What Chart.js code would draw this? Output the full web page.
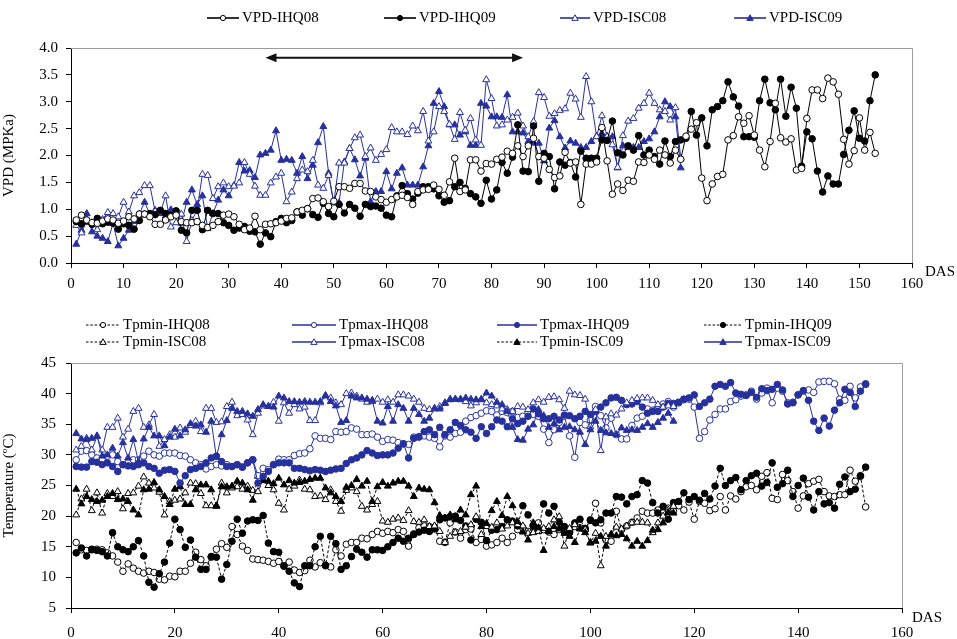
<!DOCTYPE html>
<html>
<head>
<meta charset="utf-8">
<script src="https://cdn.jsdelivr.net/npm/chart.js@4.4.1/dist/chart.umd.min.js"></script>
<style>
  body { margin: 0; background: #fff; }
  #page { position: relative; width: 957px; height: 639px; overflow: hidden;
          font-family: "Liberation Serif", "Times New Roman", serif; color: #000; }
  canvas { position: absolute; left: 0; }
  .legend-item { position: absolute; display: flex; align-items: center; white-space: nowrap; line-height: 1; }
  .legend-item svg { margin-right: 3px; }
  .das { position: absolute; font-size: 15px; }
</style>
</head>
<body>
<div id="page">
  <canvas id="vpdChart" width="957" height="300" style="top:0"></canvas>
  <canvas id="tempChart" width="957" height="339" style="top:300px"></canvas>
  <div id="legends"></div>
  <div class="das" style="left:925px; top:263px">DAS</div>
  <div class="das" style="left:912px; top:609px">DAS</div>
</div>
<script>
// days after sowing, first value of every series is day 1
const firstDay = 1;

// ---- VPD (MPKa) ----
const vpdIHQ08 = [
  0.80, 0.89, 0.80, 0.75, 0.74, 0.78, 0.82, 0.80, 0.74, 0.78,
  0.86, 0.82, 0.91, 0.91, 0.86, 0.72, 0.72, 0.80, 0.86, 0.89,
  0.77, 0.75, 0.75, 0.77, 0.70, 0.66, 0.70, 0.77, 0.89, 0.91,
  0.86, 0.72, 0.62, 0.65, 0.87, 0.62, 0.72, 0.73, 0.75, 0.78,
  0.83, 0.84, 0.95, 0.98, 1.01, 1.20, 1.21, 1.14, 1.05, 1.15,
  1.42, 1.42, 1.39, 1.48, 1.48, 1.34, 1.33, 1.23, 1.18, 1.13,
  1.18, 1.23, 1.26, 1.22, 1.09, 1.33, 1.36, 1.37, 1.45, 1.37,
  1.26, 1.51, 1.95, 1.33, 1.36, 1.92, 1.92, 1.71, 1.85, 1.84,
  1.93, 1.97, 2.08, 2.04, 2.18, 1.98, 2.18, 2.32, 1.98, 1.95,
  1.74, 1.59, 1.62, 2.06, 1.86, 1.88, 1.09, 1.84, 1.84, 1.88,
  2.52, 1.90, 1.28, 1.47, 1.35, 1.54, 1.52, 1.88, 1.87, 2.01,
  1.93, 2.10, 2.01, 1.86, 2.10, 1.93, 2.36, 2.49, 2.61, 1.58,
  1.16, 1.47, 1.61, 1.65, 2.29, 2.37, 2.72, 2.60, 2.74, 2.38,
  2.10, 1.79, 2.26, 2.97, 2.33, 2.25, 2.31, 1.73, 1.76, 2.69,
  3.22, 3.22, 3.06, 3.44, 3.37, 3.14, 2.30, 1.84, 2.09, 2.70,
  2.10, 2.43, 2.04,
];
const vpdIHQ09 = [
  0.77, 0.73, 0.78, 0.72, 0.83, 0.73, 0.76, 0.74, 0.63, 0.73,
  0.70, 0.63, 0.79, 0.91, 0.92, 0.90, 0.98, 0.92, 0.89, 0.97,
  0.61, 0.56, 0.98, 0.98, 0.62, 0.98, 0.92, 0.92, 0.75, 0.70,
  0.61, 0.65, 0.68, 0.59, 0.58, 0.35, 0.56, 0.49, 0.77, 0.83,
  0.75, 0.79, 0.95, 0.89, 1.01, 0.90, 0.85, 1.11, 0.92, 0.86,
  1.09, 0.93, 1.09, 1.02, 0.87, 1.09, 1.05, 1.06, 1.02, 0.89,
  0.86, 1.25, 1.44, 1.29, 1.19, 1.30, 1.42, 1.42, 1.38, 1.25,
  1.13, 1.16, 1.42, 1.50, 1.39, 1.29, 1.23, 1.11, 1.54, 1.19,
  1.36, 1.87, 1.67, 1.97, 2.57, 1.71, 1.70, 2.55, 1.52, 2.04,
  1.98, 1.38, 1.88, 1.82, 1.87, 1.60, 2.08, 1.95, 1.95, 1.95,
  2.29, 2.28, 2.64, 2.05, 2.01, 2.18, 2.10, 2.37, 2.01, 2.10,
  1.98, 1.84, 2.27, 1.98, 2.26, 2.29, 2.32, 2.82, 2.38, 2.70,
  2.18, 2.85, 2.91, 3.02, 3.37, 3.09, 2.92, 2.35, 2.35, 2.34,
  3.02, 3.42, 2.98, 2.85, 3.42, 2.73, 3.27, 2.88, 1.80, 2.44,
  2.31, 1.71, 1.32, 1.62, 1.47, 1.47, 2.02, 2.47, 2.83, 2.32,
  2.27, 3.02, 3.50,
];
const vpdISC08 = [
  0.70, 0.56, 0.79, 0.75, 0.62, 0.81, 0.94, 0.92, 0.86, 1.13,
  0.95, 1.25, 1.31, 1.44, 1.44, 0.96, 0.94, 1.25, 0.67, 0.75,
  0.91, 0.40, 0.79, 0.99, 1.65, 1.63, 1.20, 1.42, 1.49, 1.42,
  1.43, 1.49, 1.87, 1.65, 1.43, 1.26, 1.26, 1.49, 1.60, 1.67,
  1.14, 1.32, 1.57, 1.73, 1.70, 1.91, 1.45, 1.39, 1.63, 1.12,
  1.86, 1.86, 2.13, 2.33, 2.38, 1.98, 2.14, 1.91, 2.02, 2.11,
  2.52, 2.44, 2.44, 2.39, 2.55, 2.46, 2.82, 2.27, 2.44, 2.91,
  2.82, 2.58, 2.30, 2.80, 2.47, 2.69, 2.29, 2.19, 3.41, 3.06,
  2.55, 2.57, 2.66, 2.71, 2.79, 2.55, 2.35, 2.63, 3.17, 3.08,
  2.73, 2.78, 2.84, 2.87, 3.16, 3.05, 2.71, 3.47, 3.00, 2.35,
  2.74, 2.35, 2.20, 1.78, 2.37, 2.64, 2.69, 2.88, 2.97, 3.16,
  2.97, 2.85, 2.82, 2.66, 2.89, 1.95,
];
const vpdISC09 = [
  0.35, 0.61, 0.92, 0.58, 0.50, 0.46, 0.40, 0.74, 0.32, 0.46,
  0.61, 0.77, 0.91, 1.13, 0.91, 0.98, 0.92, 0.87, 0.99, 0.95,
  0.74, 1.13, 1.36, 1.09, 1.25, 0.64, 0.92, 1.17, 1.36, 1.25,
  1.44, 1.87, 1.71, 1.72, 1.59, 2.01, 2.04, 2.10, 2.46, 1.91,
  1.93, 1.91, 1.67, 1.98, 1.57, 1.82, 2.24, 2.54, 1.67, 1.12,
  1.12, 1.88, 2.13, 1.92, 1.62, 1.95, 1.14, 1.33, 1.33, 1.70,
  1.38, 1.67, 1.77, 1.45, 1.45, 1.45, 1.79, 2.18, 2.97, 3.19,
  2.91, 2.57, 2.57, 2.38, 2.44, 2.19, 2.19, 2.97, 2.92, 2.72,
  2.72, 2.71, 3.13, 2.44, 2.44, 2.42, 2.26, 2.23, 2.23, 1.90,
  2.51, 2.65, 2.35, 2.14, 2.27, 2.23, 2.15, 2.15, 2.26, 2.36,
  2.41, 2.36, 2.35, 1.77, 2.18, 2.15, 2.15, 2.15, 2.26, 2.31,
  2.44, 2.72, 3.00, 2.91, 2.72, 1.77,
];

// ---- Temperature (ºC) ----
const tminIHQ08 = [
  15.7, 14.5, 14.4, 14.5, 14.6, 14.5, 14.0, 13.5, 12.5, 11.0,
  12.2, 11.5, 11.0, 10.7, 11.0, 10.8, 9.7, 9.6, 10.2, 10.1,
  11.0, 11.0, 12.3, 14.1, 12.9, 11.9, 13.3, 14.6, 15.5, 14.9,
  18.3, 17.0, 15.1, 14.4, 13.0, 12.9, 12.8, 12.6, 12.3, 12.6,
  11.8, 12.5, 11.2, 10.8, 11.1, 12.8, 11.7, 12.4, 12.0, 11.7,
  14.5, 13.5, 15.4, 15.7, 15.7, 16.4, 16.3, 17.0, 17.5, 17.2,
  17.5, 17.3, 17.8, 17.5, 15.1, 17.1, 18.1, 18.4, 18.3, 18.2,
  15.9, 15.7, 18.9, 17.4, 16.4, 17.8, 17.9, 15.7, 16.2, 15.1,
  15.3, 15.7, 16.4, 15.7, 16.7, 17.8, 18.1, 17.5, 18.4, 18.9,
  17.8, 17.4, 17.0, 17.8, 17.4, 17.5, 18.3, 18.1, 17.8, 19.4,
  22.1, 18.9, 16.1, 15.9, 20.8, 17.8, 18.4, 19.0, 19.7, 20.8,
  20.5, 20.5, 21.0, 20.5, 21.3, 20.8, 21.7, 21.0, 22.3, 19.5,
  22.4, 22.1, 20.9, 21.2, 23.2, 21.0, 23.3, 22.8, 24.0, 24.8,
  25.0, 24.3, 26.5, 27.1, 22.9, 22.7, 26.8, 25.8, 24.0, 21.3,
  23.3, 25.3, 25.7, 26.0, 24.0, 23.3, 23.2, 23.5, 23.5, 27.5,
  25.7, 26.5, 21.5,
];
const tmaxIHQ08 = [
  29.2, 30.6, 30.7, 30.0, 29.5, 29.2, 29.8, 30.0, 28.9, 28.4,
  28.7, 29.2, 29.2, 29.8, 30.6, 30.0, 29.8, 30.3, 30.3, 30.3,
  29.9, 29.8, 29.2, 28.7, 28.4, 27.7, 28.1, 28.4, 28.2, 28.4,
  28.1, 28.4, 28.0, 28.7, 29.2, 26.6, 27.8, 27.6, 28.4, 29.3,
  29.2, 29.2, 29.9, 30.2, 30.3, 31.0, 33.1, 32.7, 32.7, 32.5,
  33.8, 33.7, 33.8, 34.4, 34.2, 33.3, 33.3, 33.4, 32.9, 32.2,
  32.5, 32.4, 32.0, 31.8, 31.7, 32.9, 33.0, 33.1, 32.9, 32.7,
  31.3, 33.1, 32.9, 33.5, 33.7, 35.5, 36.1, 36.4, 36.8, 37.2,
  37.1, 36.5, 37.1, 36.9, 37.1, 36.1, 36.3, 36.8, 36.6, 36.3,
  34.2, 32.0, 34.1, 35.3, 36.3, 33.1, 29.6, 35.3, 34.9, 35.7,
  37.9, 36.4, 34.4, 36.0, 33.3, 32.6, 32.6, 34.8, 36.0, 36.3,
  37.5, 37.3, 37.4, 38.3, 38.7, 37.8, 38.5, 39.0, 39.1, 37.8,
  32.7, 33.8, 35.7, 36.6, 37.5, 37.5, 38.7, 39.0, 39.6, 39.8,
  40.4, 39.1, 40.1, 40.9, 38.5, 40.9, 40.4, 38.5, 38.6, 39.8,
  40.4, 40.6, 40.2, 41.9, 42.0, 42.0, 41.6, 39.1, 38.9, 41.2,
  39.3, 41.1, 41.5,
];
const tmaxIHQ09 = [
  28.1, 28.0, 28.0, 28.9, 28.8, 28.4, 28.7, 28.1, 27.3, 28.4,
  28.2, 28.1, 28.4, 28.7, 28.1, 27.8, 27.0, 27.5, 27.6, 27.3,
  25.4, 26.6, 27.6, 27.8, 28.1, 28.7, 29.5, 29.8, 28.9, 28.1,
  28.1, 28.4, 28.0, 28.7, 29.2, 25.4, 26.5, 27.3, 28.4, 28.7,
  28.7, 28.7, 27.8, 27.8, 27.6, 27.4, 27.6, 27.5, 27.3, 27.5,
  27.7, 27.8, 28.6, 29.2, 29.5, 30.0, 30.7, 30.3, 29.9, 30.0,
  30.0, 30.3, 31.1, 31.8, 29.5, 32.7, 32.9, 33.8, 34.1, 33.3,
  34.5, 33.3, 34.1, 35.3, 34.8, 34.1, 33.7, 32.7, 34.6, 33.5,
  34.6, 35.7, 35.5, 34.6, 35.9, 35.1, 35.5, 36.3, 37.5, 36.7,
  35.9, 35.9, 36.3, 35.7, 36.5, 36.4, 35.9, 36.3, 37.1, 36.6,
  37.1, 37.8, 38.5, 39.3, 39.4, 38.9, 38.2, 38.3, 38.7, 37.8,
  36.8, 37.1, 37.1, 37.8, 38.4, 38.4, 38.6, 39.1, 39.3, 39.8,
  37.9, 38.5, 39.1, 41.2, 41.5, 41.2, 41.8, 40.1, 39.9, 39.7,
  40.2, 39.4, 40.8, 40.5, 40.7, 41.5, 40.6, 38.3, 38.5, 39.8,
  40.5, 38.9, 35.5, 34.0, 36.0, 34.7, 37.3, 38.5, 40.7, 40.2,
  37.9, 40.4, 41.6,
];
const tminIHQ09 = [
  14.0, 14.8, 13.5, 14.6, 14.4, 14.2, 13.5, 17.3, 15.0, 14.5,
  14.2, 15.0, 16.0, 13.5, 9.2, 8.4, 10.6, 12.5, 15.6, 19.5,
  17.8, 14.9, 16.1, 13.3, 11.3, 11.3, 13.4, 13.3, 9.7, 12.1,
  15.9, 19.5, 17.2, 19.2, 19.4, 19.3, 20.1, 15.6, 14.2, 14.1,
  11.9, 11.0, 9.1, 8.5, 11.9, 11.9, 15.0, 16.7, 11.9, 16.7,
  15.5, 11.3, 11.9, 13.4, 14.6, 14.1, 13.3, 14.5, 14.5, 14.4,
  15.0, 15.7, 16.4, 15.9, 16.4, 17.0, 17.4, 17.7, 17.5, 17.9,
  19.4, 19.7, 19.9, 20.0, 19.3, 18.4, 16.1, 19.5, 19.0, 16.0,
  17.7, 17.8, 18.3, 19.4, 19.2, 18.4, 21.7, 20.2, 18.4, 17.8,
  22.0, 20.5, 21.6, 19.0, 18.3, 17.3, 18.9, 19.5, 18.0, 19.3,
  18.9, 19.4, 20.5, 20.5, 23.2, 23.1, 22.0, 23.2, 23.5, 25.8,
  25.4, 22.2, 20.5, 21.6, 19.5, 22.2, 22.4, 23.8, 22.7, 23.2,
  22.6, 23.7, 22.8, 24.9, 27.8, 25.0, 25.8, 26.3, 24.3, 25.8,
  26.6, 27.0, 24.9, 25.5, 28.7, 24.7, 25.3, 27.5, 23.2, 25.0,
  26.2, 23.1, 21.0, 24.0, 22.0, 22.2, 21.3, 25.2, 26.4, 24.0,
  24.4, 26.6, 28.0,
];
const tminISC08 = [
  20.2, 22.8, 24.4, 20.9, 23.8, 20.5, 23.7, 23.2, 24.0, 21.2,
  23.7, 23.8, 24.9, 26.4, 25.4, 24.6, 23.9, 20.2, 22.4, 22.6,
  22.8, 23.8, 25.4, 25.3, 23.7, 21.7, 21.7, 21.6, 25.4, 23.8,
  24.6, 24.8, 24.4, 24.9, 24.2, 24.0, 25.9, 25.0, 24.3, 22.1,
  21.0, 24.4, 24.9, 25.9, 24.4, 24.3, 23.2, 23.3, 22.7, 24.3,
  22.4, 20.8, 24.2, 24.6, 24.0, 21.6, 21.0, 21.9, 22.4, 19.2,
  19.0, 19.5, 19.7, 19.3, 20.9, 19.1, 19.0, 19.4, 18.3, 18.4,
  17.5, 15.7, 16.7, 17.3, 17.5, 18.2, 18.6, 19.9, 17.0, 18.3,
  18.2, 18.9, 17.9, 18.4, 18.9, 18.6, 18.4, 17.2, 17.3, 17.5,
  18.0, 18.3, 19.4, 19.9, 15.1, 18.0, 18.6, 18.0, 17.8, 15.6,
  17.2, 11.9, 16.7, 17.0, 18.2, 17.9, 18.4, 18.9, 19.0, 19.0,
  18.9, 17.3, 18.9, 20.0, 21.0, 21.6,
];
const tmaxISC08 = [
  30.8, 31.4, 32.7, 30.8, 33.0, 30.8, 34.5, 34.5, 36.0, 32.9,
  34.2, 37.1, 37.6, 34.5, 34.9, 36.6, 31.4, 32.5, 33.3, 32.9,
  34.4, 33.7, 34.8, 35.5, 33.8, 37.6, 37.6, 35.3, 35.4, 37.9,
  38.6, 36.4, 36.6, 35.7, 33.3, 36.8, 38.0, 37.9, 38.6, 35.5,
  38.5, 36.8, 38.2, 37.5, 37.8, 35.6, 35.6, 38.5, 39.6, 39.3,
  38.5, 38.2, 40.0, 40.1, 39.6, 39.1, 38.6, 38.7, 39.1, 38.6,
  39.0, 38.6, 39.8, 39.8, 39.6, 39.1, 38.6, 37.6, 37.4, 37.5,
  37.9, 38.5, 39.1, 39.1, 39.0, 38.7, 38.0, 38.5, 39.0, 38.5,
  38.2, 38.0, 37.5, 37.4, 37.1, 37.9, 37.8, 37.4, 38.5, 39.0,
  38.6, 39.4, 39.5, 39.0, 37.6, 40.4, 39.8, 39.7, 39.1, 34.6,
  37.4, 30.7, 36.2, 36.7, 36.5, 37.5, 38.5, 38.9, 39.2, 39.3,
  39.3, 38.9, 38.2, 37.8, 38.0, 37.9,
];
const tminISC09 = [
  24.4, 22.0, 23.2, 22.7, 22.4, 22.6, 23.2, 23.7, 22.7, 22.8,
  22.4, 21.0, 20.2, 24.3, 24.4, 25.5, 24.3, 23.2, 21.9, 24.4,
  24.8, 21.9, 21.9, 24.3, 25.1, 25.1, 24.3, 21.7, 24.8, 24.8,
  24.9, 25.7, 25.4, 24.3, 22.6, 26.5, 25.8, 25.7, 25.3, 26.2,
  25.1, 25.8, 25.4, 25.5, 25.7, 26.0, 26.2, 26.2, 24.6, 23.8,
  23.2, 22.4, 24.7, 25.0, 26.0, 24.9, 25.7, 22.4, 24.8, 25.5,
  24.9, 25.4, 25.7, 25.7, 24.9, 23.2, 24.6, 24.4, 24.3, 22.2,
  20.1, 19.7, 20.2, 19.4, 21.0, 20.2, 23.5, 24.9, 18.3, 18.8,
  20.9, 22.4, 20.1, 23.2, 21.7, 19.1, 17.4, 16.1, 18.9, 18.1,
  14.4, 17.5, 18.3, 17.9, 17.2, 16.7, 15.7, 17.9, 17.3, 15.7,
  15.9, 16.7, 15.1, 17.0, 16.8, 17.0, 16.3, 15.1, 15.9, 15.1,
  16.0, 17.7, 17.8, 18.9, 20.6, 20.5,
];
const tmaxISC09 = [
  33.5, 32.6, 32.5, 32.7, 33.1, 29.8, 30.0, 31.1, 29.8, 32.0,
  29.5, 32.5, 28.9, 32.6, 34.5, 33.1, 33.1, 31.5, 32.9, 34.2,
  33.1, 34.1, 35.1, 34.7, 34.9, 33.7, 35.5, 29.6, 33.3, 35.6,
  37.6, 37.1, 37.1, 36.7, 36.3, 37.4, 38.2, 37.9, 37.8, 39.6,
  39.3, 38.7, 38.7, 38.6, 38.7, 38.6, 38.6, 38.7, 39.7, 38.7,
  38.0, 35.3, 35.6, 39.6, 39.3, 39.3, 39.1, 38.9, 35.5, 35.2,
  37.9, 35.5, 38.2, 37.6, 35.5, 37.6, 36.6, 35.5, 36.0, 37.6,
  37.5, 38.4, 39.0, 39.1, 39.1, 39.3, 39.1, 39.0, 39.1, 40.1,
  39.6, 38.6, 38.2, 37.1, 34.5, 32.5, 32.4, 34.2, 34.9, 37.4,
  36.4, 34.5, 35.1, 34.1, 34.5, 34.6, 34.1, 33.7, 31.7, 34.1,
  35.5, 34.0, 33.6, 33.5, 33.3, 34.4, 34.0, 34.1, 34.0, 34.5,
  35.1, 34.5, 35.3, 36.0, 36.8, 35.5,
];

// double arrow drawn in the VPD panel (DAS from / to, VPD level)
const arrowFrom = 37;
const arrowTo = 86;
const arrowLevel = 3.82;

const vpdTicksX = { min: 0, max: 160, step: 10 };
const vpdTicksY = { min: 0, max: 4, step: 0.5 };
const tempTicksX = { min: 0, max: 160, step: 20 };
const tempTicksY = { min: 5, max: 45, step: 5 };

const BLUE = "#27319d";
const BLACK = "#000000";
const FONT = "'Liberation Serif', 'Times New Roman', serif";

Chart.defaults.font.family = FONT;
Chart.defaults.font.size = 15;
Chart.defaults.color = "#000";

const styles = {
  "VPD-IHQ08": { color: BLACK, shape: "circle", filled: false, dashed: false },
  "VPD-IHQ09": { color: BLACK, shape: "circle", filled: true, dashed: false },
  "VPD-ISC08": { color: BLUE, shape: "triangle", filled: false, dashed: false },
  "VPD-ISC09": { color: BLUE, shape: "triangle", filled: true, dashed: false },
  "Tpmin-IHQ08": { color: BLACK, shape: "circle", filled: false, dashed: true },
  "Tpmax-IHQ08": { color: BLUE, shape: "circle", filled: false, dashed: false },
  "Tpmax-IHQ09": { color: BLUE, shape: "circle", filled: true, dashed: false },
  "Tpmin-IHQ09": { color: BLACK, shape: "circle", filled: true, dashed: true },
  "Tpmin-ISC08": { color: BLACK, shape: "triangle", filled: false, dashed: true },
  "Tpmax-ISC08": { color: BLUE, shape: "triangle", filled: false, dashed: false },
  "Tpmin-ISC09": { color: BLACK, shape: "triangle", filled: true, dashed: true },
  "Tpmax-ISC09": { color: BLUE, shape: "triangle", filled: true, dashed: false },
};

function toPoints(values) {
  return values.map((v, i) => ({ x: firstDay + i, y: v }));
}

function makeDataset(label, values) {
  const s = styles[label];
  return {
    label,
    data: toPoints(values),
    borderColor: s.color,
    borderWidth: 1,
    borderDash: s.dashed ? [3, 2] : [],
    pointStyle: s.shape,
    pointRadius: s.shape === "triangle" ? 4 : 3.3,
    pointBorderWidth: 1,
    pointBorderColor: s.color,
    pointBackgroundColor: s.filled ? s.color : "#ffffff",
    tension: 0,
    fill: false,
  };
}

function axis(ticks, opts) {
  return {
    type: "linear",
    min: ticks.min,
    max: ticks.max,
    grid: { display: true, drawOnChartArea: false, drawTicks: true, tickLength: 5, color: "#000" },
    border: { display: true, color: "#000", width: 1 },
    ticks: { stepSize: ticks.step, padding: opts.padding, callback: opts.format, font: { size: 15 } },
    title: opts.title
      ? { display: true, text: opts.title, font: { size: 15 }, padding: { top: 0, bottom: 4 } }
      : { display: false },
    afterFit: opts.fit,
  };
}

const framePlugin = {
  id: "frame",
  beforeDatasetsDraw(chart) {
    const { ctx, chartArea: a } = chart;
    ctx.save();
    ctx.strokeStyle = "#9c9c9c";
    ctx.lineWidth = 1;
    ctx.beginPath();
    ctx.moveTo(a.left, Math.round(a.top) + 0.5);
    ctx.lineTo(Math.round(a.right) + 0.5, Math.round(a.top) + 0.5);
    ctx.lineTo(Math.round(a.right) + 0.5, a.bottom);
    ctx.stroke();
    ctx.restore();
  },
};

const arrowPlugin = {
  id: "arrow",
  afterDatasetsDraw(chart) {
    const { ctx, scales } = chart;
    const x1 = scales.x.getPixelForValue(arrowFrom);
    const x2 = scales.x.getPixelForValue(arrowTo);
    const y = scales.y.getPixelForValue(arrowLevel);
    ctx.save();
    ctx.strokeStyle = "#111";
    ctx.fillStyle = "#111";
    ctx.lineWidth = 2;
    ctx.beginPath();
    ctx.moveTo(x1 + 6, y);
    ctx.lineTo(x2 - 6, y);
    ctx.stroke();
    [[x1, 1], [x2, -1]].forEach(([x, d]) => {
      ctx.beginPath();
      ctx.moveTo(x, y);
      ctx.lineTo(x + d * 11, y - 4.5);
      ctx.lineTo(x + d * 11, y + 4.5);
      ctx.closePath();
      ctx.fill();
    });
    ctx.restore();
  },
};

function baseOptions(xAxis, yAxis, padding) {
  return {
    responsive: false,
    animation: false,
    devicePixelRatio: 1,
    layout: { padding },
    plugins: { legend: { display: false }, tooltip: { enabled: false } },
    scales: { x: xAxis, y: yAxis },
  };
}

new Chart(document.getElementById("vpdChart"), {
  type: "line",
  data: {
    datasets: [
      makeDataset("VPD-IHQ08", vpdIHQ08),
      makeDataset("VPD-IHQ09", vpdIHQ09),
      makeDataset("VPD-ISC08", vpdISC08),
      makeDataset("VPD-ISC09", vpdISC09),
    ],
  },
  options: baseOptions(
    axis(vpdTicksX, { padding: 7, fit: (s) => { s.height = 37; } }),
    axis(vpdTicksY, {
      padding: 8,
      format: (v) => Number(v).toFixed(1),
      title: "VPD (MPKa)",
      fit: (s) => { s.width = 71; },
    }),
    { top: 48, right: 45, bottom: 0, left: 0 }
  ),
  plugins: [framePlugin, arrowPlugin],
});

new Chart(document.getElementById("tempChart"), {
  type: "line",
  data: {
    datasets: [
      makeDataset("Tpmax-ISC09", tmaxISC09),
      makeDataset("Tpmax-ISC08", tmaxISC08),
      makeDataset("Tpmax-IHQ09", tmaxIHQ09),
      makeDataset("Tpmax-IHQ08", tmaxIHQ08),
      makeDataset("Tpmin-ISC09", tminISC09),
      makeDataset("Tpmin-ISC08", tminISC08),
      makeDataset("Tpmin-IHQ09", tminIHQ09),
      makeDataset("Tpmin-IHQ08", tminIHQ08),
    ],
  },
  options: baseOptions(
    axis(tempTicksX, { padding: 11, fit: (s) => { s.height = 31; } }),
    axis(tempTicksY, {
      padding: 10,
      title: "Temperature (ºC)",
      fit: (s) => { s.width = 71; },
    }),
    { top: 63, right: 55, bottom: 0, left: 0 }
  ),
  plugins: [framePlugin],
});

// ---- legends (html, samples drawn as small svg) ----
function sampleSvg(style, width) {
  const mid = width / 2;
  const dash = style.dashed ? ' stroke-dasharray="2.5,1.8"' : "";
  const fill = style.filled ? style.color : "#fff";
  const marker = style.shape === "circle"
    ? `<circle cx="${mid}" cy="6" r="2.6" fill="${fill}" stroke="${style.color}" stroke-width="1"/>`
    : `<polygon points="${mid},2.8 ${mid + 3.2},8.4 ${mid - 3.2},8.4" fill="${fill}" stroke="${style.color}" stroke-width="1"/>`;
  return `<svg width="${width}" height="12"><line x1="0" y1="6" x2="${width}" y2="6" stroke="${style.color}" stroke-width="${style.dashed ? 1 : 1.6}"${dash}/>${marker}</svg>`;
}

const vpdLegend = [
  { label: "VPD-IHQ08", x: 207, y: 17, w: 32 },
  { label: "VPD-IHQ09", x: 384, y: 17, w: 32 },
  { label: "VPD-ISC08", x: 560, y: 17, w: 30 },
  { label: "VPD-ISC09", x: 734, y: 17, w: 32 },
];
const tempLegend = [
  { label: "Tpmin-IHQ08", x: 86, y: 324, w: 34 },
  { label: "Tpmax-IHQ08", x: 292, y: 324, w: 44 },
  { label: "Tpmax-IHQ09", x: 497, y: 324, w: 40 },
  { label: "Tpmin-IHQ09", x: 704, y: 324, w: 38 },
  { label: "Tpmin-ISC08", x: 86, y: 341, w: 34 },
  { label: "Tpmax-ISC08", x: 292, y: 341, w: 44 },
  { label: "Tpmin-ISC09", x: 497, y: 341, w: 40 },
  { label: "Tpmax-ISC09", x: 704, y: 341, w: 38 },
];

const legendsEl = document.getElementById("legends");
function addLegend(items, fontSize) {
  items.forEach((item) => {
    const div = document.createElement("div");
    div.className = "legend-item";
    div.style.left = item.x + "px";
    div.style.top = item.y - 7 + "px";
    div.style.fontSize = fontSize + "px";
    div.innerHTML = sampleSvg(styles[item.label], item.w) + `<span>${item.label}</span>`;
    legendsEl.appendChild(div);
  });
}
addLegend(vpdLegend, 15);
addLegend(tempLegend, 15);
</script>
</body>
</html>
